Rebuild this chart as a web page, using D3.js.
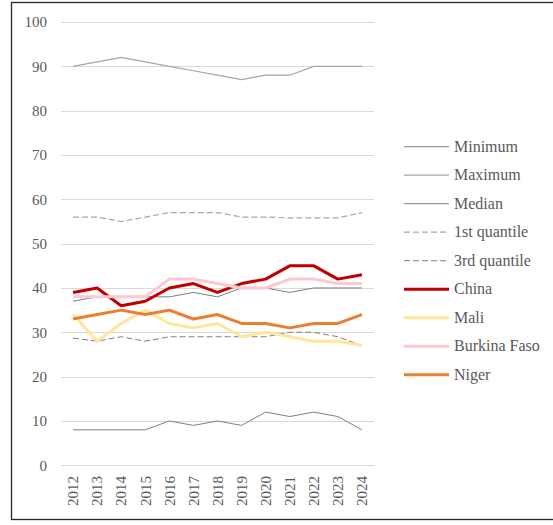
<!DOCTYPE html>
<html lang="en">

<head>
  <meta charset="UTF-8">
  <title>Indicator by year</title>
  <script src="https://d3js.org/d3.v7.min.js"></script>
  <style>
    body {
      margin: 0;
      background: #fff;
    }

    svg text {
      font-family: "Liberation Serif", "DejaVu Serif", serif;
    }

    .tick-label {
      fill: #595959;
      font-size: 15px;
    }

    .legend text {
      fill: #595959;
      font-size: 16px;
    }
  </style>
</head>

<body>
  <div id="chart"></div>

  <script>
    const years = ["2012", "2013", "2014", "2015", "2016", "2017", "2018",
      "2019", "2020", "2021", "2022", "2023", "2024"];
    const yTicks = [0, 10, 20, 30, 40, 50, 60, 70, 80, 90, 100];

    const minimum = [8, 8, 8, 8, 10, 9, 10, 9, 12, 11, 12, 11, 8];
    const maximum = [90, 91, 92, 91, 90, 89, 88, 87, 88, 88, 90, 90, 90];
    const median = [37, 38, 38, 38, 38, 39, 38, 40, 40, 39, 40, 40, 40];
    const quantile1 = [56, 56, 55, 56, 57, 57, 57, 56, 56, 55.8, 55.8, 55.8, 57];
    const quantile3 = [28.7, 28, 29, 28, 29, 29, 29, 29, 29, 30, 30, 29, 27];
    const china = [39, 40, 36, 37, 40, 41, 39, 41, 42, 45, 45, 42, 43];
    const mali = [34, 28, 32, 35, 32, 31, 32, 29, 30, 29, 28, 28, 27];
    const burkinaFaso = [38, 38, 38, 38, 42, 42, 41, 40, 40, 42, 42, 41, 41];
    const niger = [33, 34, 35, 34, 35, 33, 34, 32, 32, 31, 32, 32, 34];

    const series = [
      { name: "Minimum", values: minimum, color: "#808080", width: 1, dash: null },
      { name: "Maximum", values: maximum, color: "#a6a6a6", width: 1.2, dash: null },
      { name: "Median", values: median, color: "#7f7f7f", width: 1, dash: null },
      { name: "1st quantile", values: quantile1, color: "#a6a6a6", width: 1.2, dash: "6,3" },
      { name: "3rd quantile", values: quantile3, color: "#7f7f7f", width: 1, dash: "6,3" },
      { name: "China", values: china, color: "#c00000", width: 3, dash: null },
      { name: "Mali", values: mali, color: "#ffe699", width: 3, dash: null },
      { name: "Burkina Faso", values: burkinaFaso, color: "#ffc7ce", width: 3, dash: null },
      { name: "Niger", values: niger, color: "#ed7d31", width: 3, dash: null }
    ];

    const width = 553;
    const height = 525;

    const svg = d3.select("#chart")
      .append("svg")
      .attr("width", width)
      .attr("height", height)
      .attr("font-family", "Liberation Serif, serif");

    // outer frame (runs off the right edge like the original)
    svg.append("rect")
      .attr("x", 11.5)
      .attr("y", 2.5)
      .attr("width", 560)
      .attr("height", 517)
      .attr("fill", "none")
      .attr("stroke", "#262626")
      .attr("stroke-width", 1.3);

    const x = d3.scalePoint()
      .domain(years)
      .range([61, 374])
      .padding(0.5);

    const y = d3.scaleLinear()
      .domain([0, 100])
      .range([465.3, 22]);

    // gridlines
    svg.append("g")
      .selectAll("line")
      .data(yTicks)
      .join("line")
      .attr("x1", 61)
      .attr("x2", 374)
      .attr("y1", d => Math.round(y(d)) + 0.5)
      .attr("y2", d => Math.round(y(d)) + 0.5)
      .attr("stroke", "#d9d9d9")
      .attr("stroke-width", 1.2);

    // y tick labels
    svg.append("g")
      .selectAll("text")
      .data(yTicks)
      .join("text")
      .attr("class", "tick-label")
      .attr("x", 47)
      .attr("y", d => y(d))
      .attr("dy", "0.35em")
      .attr("text-anchor", "end")
      .text(d => d);

    // x tick labels, rotated
    svg.append("g")
      .selectAll("text")
      .data(years)
      .join("text")
      .attr("class", "tick-label")
      .attr("transform", d => `translate(${x(d)},476) rotate(-90)`)
      .attr("dy", "0.35em")
      .attr("text-anchor", "end")
      .text(d => d);

    const line = d3.line()
      .x((d, i) => x(years[i]))
      .y(d => y(d));

    svg.append("g")
      .selectAll("path")
      .data(series)
      .join("path")
      .attr("d", d => line(d.values))
      .attr("fill", "none")
      .attr("stroke", d => d.color)
      .attr("stroke-width", d => d.width)
      .attr("stroke-dasharray", d => d.dash)
      .attr("stroke-linejoin", "round");

    // legend
    const legend = svg.append("g")
      .attr("class", "legend");

    const rows = legend.selectAll("g")
      .data(series)
      .join("g")
      .attr("transform", (d, i) => `translate(0,${146.7 + i * 28.5})`);

    rows.append("line")
      .attr("x1", 404)
      .attr("x2", 449)
      .attr("stroke", d => d.color)
      .attr("stroke-width", d => d.width)
      .attr("stroke-dasharray", d => d.dash);

    rows.append("text")
      .attr("x", 454)
      .attr("dy", "0.33em")
      .text(d => d.name);
  </script>
</body>

</html>
